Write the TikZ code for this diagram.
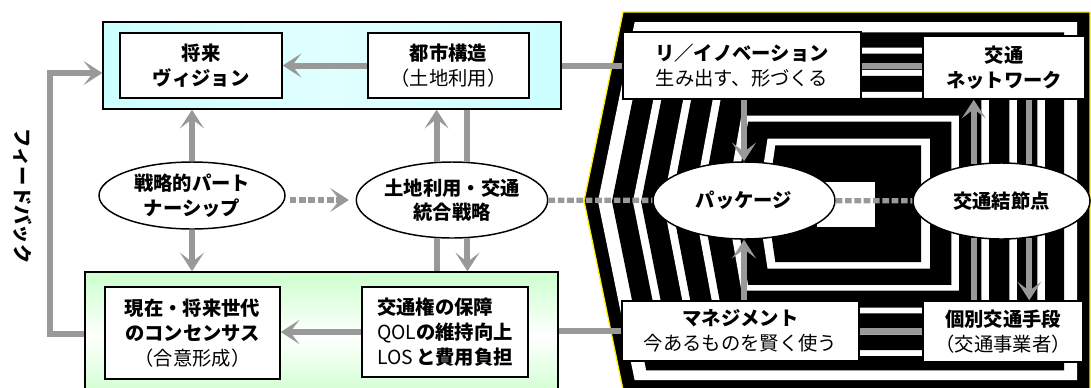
\documentclass[tikz,border=0pt]{standalone}
\usepackage{fontspec}
\setmainfont{Noto Sans CJK JP}
\usetikzlibrary{arrows.meta,calc,shapes.geometric}

\newlength{\ux}\setlength{\ux}{0.75pt}
\newcommand{\jtext}{\fontsize{14.5pt}{18.5pt}\selectfont}
% one ring of the striped frame, #1 runs from outer edge (0) to centre (1)
\newcommand{\bandshape}[1]{($(o1)!#1!(i1)$) -- ($(o2)!#1!(i2)$) -- ($(o3)!#1!(i3)$) -- ($(o4)!#1!(i4)$) -- ($(o5)!#1!(i5)$) -- cycle}

\definecolor{flowgray}{RGB}{153,153,153}
\definecolor{skyfill}{RGB}{204,255,255}
\definecolor{leaffill}{RGB}{204,255,204}

\tikzset{every picture/.style={line width=0.75pt}}
\tikzset{
  box/.style={draw, fill=white, line width=1.1pt, align=center, inner sep=0pt, font=\jtext\bfseries},
  oval/.style={ellipse, draw, fill=white, line width=1.1pt, align=center, inner xsep=0pt, inner ysep=-4pt, font=\jtext\bfseries},
  panel/.style={draw, line width=1.1pt, inner sep=0pt},
  flow/.style={draw=flowgray, line width=4.5pt},
  flowto/.style={flow, -{Stealth[length=14pt,width=18pt,inset=7pt]}},
  dots/.style={draw=flowgray, line width=4pt, dash pattern=on 5pt off 2pt},
}

\begin{document}
\begin{tikzpicture}[x=0.75pt,y=0.75pt,yscale=-1,xscale=1]
\useasboundingbox (0,0) rectangle (1091,387);

%Striped frame on the right
\coordinate (o1) at (623,12);
\coordinate (o2) at (1090,12);
\coordinate (o3) at (1090,390);
\coordinate (o4) at (623,390);
\coordinate (o5) at (584,201);
\coordinate (i1) at (817,182);
\coordinate (i2) at (875,182);
\coordinate (i3) at (875,227);
\coordinate (i4) at (817,227);
\coordinate (i5) at (817,204.5);
\fill[black] \bandshape{0};
\foreach \ta/\tb in {0.06/0.12, 0.21/0.245, 0.34/0.375, 0.47/0.505, 0.61/0.645, 0.745/0.785}{
  \fill[white] \bandshape{\ta};
  \fill[black] \bandshape{\tb};
}
\fill[white] (i1) rectangle (i3);
\draw[yellow, line width=1pt] \bandshape{0};

%Panels
\node[panel, left color=skyfill, right color=skyfill, middle color=skyfill!60] [minimum width=458\ux, minimum height=87\ux] (upper) at (332,65.5) {};
\node[panel, top color=leaffill, bottom color=leaffill, middle color=white] [minimum width=473\ux, minimum height=128\ux] (lower) at (321.5,336) {};

%Boxes
\node[box, minimum width=162\ux, minimum height=65\ux] (vision) at (201,65.5) {将来\\ヴィジョン};
\node[box, minimum width=161\ux, minimum height=65\ux] (city) at (448.5,65.5) {都市構造\\\mdseries （土地利用）};
\node[box, minimum width=238\ux, minimum height=67\ux] (reno) at (742,65.5) {リ／イノベーション\\\mdseries 生み出す、形づくる};
\node[box, minimum width=162\ux, minimum height=63\ux] (net) at (1004,67.5) {交通\\ネットワーク};
\node[box, minimum width=175\ux, minimum height=92\ux] (conc) at (192.5,333) {現在・将来世代\\のコンセンサス\\\mdseries （合意形成）};
\node[box, align=left, minimum width=166\ux, minimum height=90\ux] (kenri) at (445,332) {交通権の保障\\{\mdseries QOL}の維持向上\\{\mdseries LOS}\,と費用負担};
\node[box, minimum width=237\ux, minimum height=60\ux] (manage) at (740.5,331) {マネジメント\\\mdseries 今あるものを賢く使う};
\node[box, minimum width=160\ux, minimum height=61\ux] (mode) at (1003,331.5) {個別交通手段\\\mdseries （交通事業者）};

%Ellipses
\node[oval, minimum width=186\ux, minimum height=67\ux] (strat) at (192,195.5) {戦略的パート\\ナーシップ};
\node[oval, minimum width=180\ux, minimum height=76\ux] (integ) at (452,200) {土地利用・交通\\統合戦略};
\node[oval, minimum width=182\ux, minimum height=77\ux] (pkg) at (744,200.5) {パッケージ};
\node[oval, minimum width=177\ux, minimum height=76\ux] (hub) at (1001.5,201) {交通結節点};

% Text Node
\node[font=\jtext\bfseries, rotate=-90] (feedback) at (23,196) {フィードバック};

%Straight Lines: upper row
\draw[flowto] (city) -- (vision);
\draw[flow] (upper) -- (reno);
\draw[flow] (reno.east) -- (reno.east -| net.west);

%Straight Lines: lower row
\draw[flowto] (kenri.west) -- (kenri.west -| conc.east);
\draw[flow] (lower.east |- manage) -- (manage.west);
\draw[flow] (manage.east) -- (manage.east -| mode.west);

%Feedback loop
\coordinate (fbbot) at (50,334);
\coordinate (fbtop) at (50,73);
\draw[flowto] (lower.west |- fbbot) -- (fbbot) -- (fbtop) -- (upper.west |- fbtop);

%Vertical links
\draw[flowto] (strat.north) -- (strat.north |- upper.south);
\draw[flowto] (strat.south) -- (strat.south |- lower.north);
\draw[flowto] (integ.112) -- (integ.112 |- upper.south);
\draw[flow] (integ.68) -- (integ.68 |- upper.south);
\draw[flow] (integ.248) -- (integ.248 |- lower.north);
\draw[flowto] (integ.292) -- (integ.292 |- lower.north);
\draw[flowto] (pkg.north |- reno.south) -- (pkg.north);
\draw[flowto] (pkg.south |- manage.north) -- (pkg.south);
\draw[flowto] (hub.127) -- (hub.127 |- net.south);
\draw[flow] (hub.53) -- (hub.53 |- net.south);
\draw[flow] (hub.233) -- (hub.233 |- mode.north);
\draw[flowto] (hub.307) -- (hub.307 |- mode.north);

%Dotted links
\draw[dots, -{Stealth[length=14pt,width=18pt,inset=7pt]}, shorten <=3pt, shorten >=5pt] (strat.east |- integ) -- (integ.west);
\draw[dots] (integ) -- (pkg);
\draw[dots] (pkg) -- (hub);
\end{tikzpicture}
\end{document}
